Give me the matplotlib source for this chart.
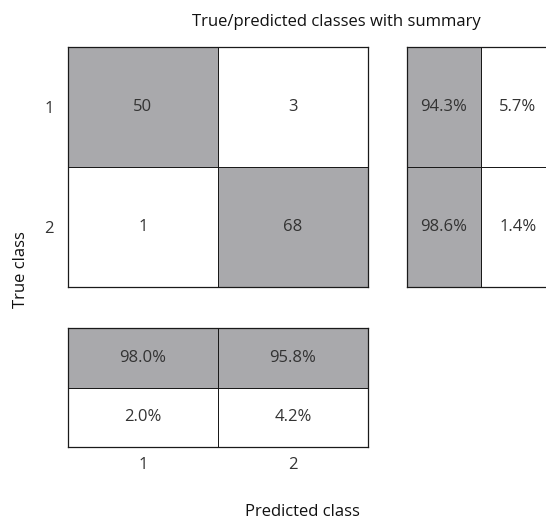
import matplotlib.pyplot as plt
import numpy as np

plt.rcParams["font.family"] = ["Open Sans", "DejaVu Sans"]

classes = ["1", "2"]
conf_counts = [[50, 3], [1, 68]]
row_summary = [[94.3, 5.7], [98.6, 1.4]]
col_summary = [[98.0, 95.8], [2.0, 4.2]]

W, H = 546, 526
GRAY = "#a9a9ac"
TXT = "#333333"
FS = 12


def px_axes(fig, x0, y0, w, h):
    # pixel box measured from the top-left corner
    return fig.add_axes([x0 / W, 1 - (y0 + h) / H, w / W, h / H])


def draw_cells(ax, values, fmt, shade):
    values = np.asarray(values)
    nr, nc = values.shape
    colors = np.where(shade, 1.0, 0.0)
    ax.pcolormesh(np.arange(nc + 1), np.arange(nr + 1), colors,
                  cmap=plt.matplotlib.colors.ListedColormap(["white", GRAY]),
                  vmin=0, vmax=1, edgecolors="#1a1a1a", linewidth=0.7)
    for i in range(nr):
        for j in range(nc):
            ax.text(j + 0.5, i + 0.5, fmt(values[i, j]), ha="center", va="center",
                    fontsize=FS, color=TXT)
    ax.set_xlim(0, nc)
    ax.set_ylim(nr, 0)
    ax.set_xticks([])
    ax.set_yticks([])
    for s in ax.spines.values():
        s.set_linewidth(0.9)
        s.set_color("#1a1a1a")


fig = plt.figure(figsize=(W / 100, H / 100), dpi=100)

ax_main = px_axes(fig, 68, 47, 300, 240)
draw_cells(ax_main, conf_counts, lambda v: f"{v:d}", np.eye(2, dtype=bool))
ax_main.set_yticks(np.arange(len(classes)) + 0.5)
ax_main.set_yticklabels(classes, fontsize=FS, color=TXT)
ax_main.tick_params(axis="y", length=0, pad=10)

ax_row = px_axes(fig, 407, 47, 148, 240)
draw_cells(ax_row, row_summary, lambda v: f"{v:.1f}%", np.array([[1, 0], [1, 0]], dtype=bool))

ax_col = px_axes(fig, 68, 328, 300, 119)
draw_cells(ax_col, col_summary, lambda v: f"{v:.1f}%", np.array([[1, 1], [0, 0]], dtype=bool))
ax_col.set_xticks(np.arange(len(classes)) + 0.5)
ax_col.set_xticklabels(classes, fontsize=FS, color=TXT)
ax_col.tick_params(axis="x", length=0, pad=7)

fig.text(336 / W, 1 - 22 / H, "True/predicted classes with summary",
         ha="center", va="center", fontsize=FS, color="#111111")
fig.text(302 / W, 1 - 512 / H, "Predicted class",
         ha="center", va="center", fontsize=FS, color="#111111")
fig.text(21 / W, 1 - 270 / H, "True class", rotation=90,
         ha="center", va="center", fontsize=FS, color="#111111")

fig.savefig("out.png", dpi=100)
